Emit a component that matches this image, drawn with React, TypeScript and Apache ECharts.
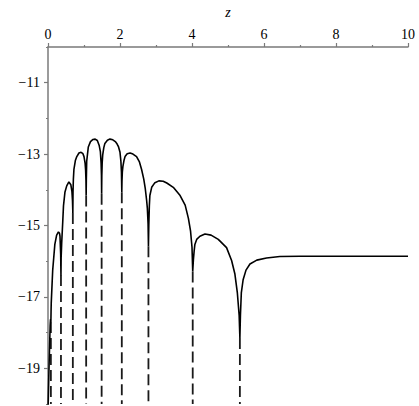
import React, { useEffect, useRef } from "react";
import * as echarts from "echarts";

// curve: log-magnitude versus z
const curvePoints: [number, number][] = [
  [0, -20.2], [0.03, -18.9], [0.06, -17.8], [0.07, -17.63], [0.08, -17.7],
  [0.085, -17.4], [0.09, -17.17], [0.13, -16.26], [0.19, -15.53], [0.24, -15.27], [0.29, -15.18],
  [0.32, -15.22], [0.333, -15.3], [0.352, -15.8], [0.36, -16.39],
  [0.365, -15.9], [0.38, -15.5], [0.41, -14.89], [0.43, -14.45], [0.47, -14.07], [0.52, -13.89],
  [0.58, -13.78], [0.635, -13.86], [0.665, -14.05], [0.68, -14.3], [0.69, -14.65],
  [0.695, -14.05], [0.705, -13.7], [0.72, -13.43], [0.76, -13.18], [0.8, -13.07], [0.86, -12.97],
  [0.92, -12.95], [0.97, -12.99], [1.0, -13.07], [1.03, -13.25], [1.045, -13.45], [1.055, -13.75], [1.06, -14.16],
  [1.065, -13.7], [1.075, -13.2], [1.12, -12.8], [1.18, -12.65], [1.25, -12.59], [1.31, -12.58],
  [1.37, -12.62], [1.42, -12.75], [1.455, -12.93], [1.475, -13.25], [1.485, -13.6], [1.49, -14.11],
  [1.495, -13.6], [1.505, -13.25], [1.52, -13.02], [1.55, -12.82], [1.58, -12.7], [1.65, -12.61],
  [1.72, -12.58], [1.8, -12.6], [1.87, -12.65], [1.91, -12.7], [1.96, -12.8], [2.0, -12.95],
  [2.025, -13.2], [2.04, -13.5], [2.05, -14.07],
  [2.055, -13.75], [2.065, -13.5], [2.08, -13.35], [2.11, -13.18], [2.14, -13.07], [2.2, -12.99],
  [2.28, -12.97], [2.36, -13.0], [2.46, -13.07], [2.54, -13.22], [2.6, -13.43], [2.66, -13.7],
  [2.7, -13.95], [2.74, -14.3], [2.76, -14.52], [2.78, -14.95], [2.79, -15.58],
  [2.8, -15.0], [2.815, -14.45], [2.83, -14.16], [2.88, -13.93], [2.97, -13.8], [3.08, -13.75],
  [3.2, -13.76], [3.3, -13.81], [3.48, -13.93], [3.67, -14.16], [3.81, -14.43], [3.9, -14.8],
  [3.96, -15.16], [4.0, -15.61], [4.02, -16.29],
  [4.04, -15.94], [4.06, -15.71], [4.08, -15.53], [4.13, -15.39], [4.22, -15.3], [4.36, -15.24],
  [4.53, -15.27], [4.73, -15.39], [4.96, -15.62], [5.1, -15.98], [5.19, -16.35], [5.26, -16.89],
  [5.31, -17.52], [5.33, -18.15],
  [5.345, -17.52], [5.37, -16.89], [5.42, -16.52], [5.5, -16.25], [5.61, -16.08], [5.8, -15.97],
  [6.07, -15.91], [6.44, -15.87], [7.0, -15.86], [10, -15.86],
];

// cusps (zeros) with dashed vertical lines below them
const cuspZ = [0.08, 0.36, 0.69, 1.06, 1.49, 2.05, 2.79, 4.02, 5.33];
const cuspV = [-17.7, -16.39, -14.65, -14.16, -14.11, -14.07, -15.58, -16.29, -18.15];

const xMin = 0;
const xMax = 10;
const xStep = 2;
const yMin = -20;
const yMax = -10;
const yLabelValues = [-19, -17, -15, -13, -11];
const yMinorValues = [-20, -18, -16, -14, -12, -10];

export default function App() {
  const ref = useRef<HTMLDivElement>(null);
  useEffect(() => {
    document.body.style.margin = "0";
    const chart = echarts.init(ref.current!, null, { renderer: "svg" });
    const font = "Liberation Serif";
    const axisColor = "#7a7a7a";
    const dashSeries = cuspZ.map((z, i) => ({
      type: "line",
      data: [[z, cuspV[i]], [z, yMin]],
      showSymbol: false,
      silent: true,
      lineStyle: { color: "#1a1a1a", width: 1.8, type: [11, 5] },
      z: 1,
    }));
    chart.setOption({
      animation: false,
      textStyle: { fontFamily: font },
      grid: { left: 48, right: 11, top: 38, bottom: 2 },
      xAxis: {
        type: "value",
        position: "top",
        min: xMin,
        max: xMax,
        interval: xStep,
        name: "z",
        nameLocation: "middle",
        nameGap: 28,
        nameTextStyle: { fontFamily: font, fontStyle: "italic", fontSize: 14, color: "#000000" },
        axisLine: { show: true, onZero: false, lineStyle: { color: axisColor, width: 1.5 } },
        axisTick: { show: true, length: 4, lineStyle: { color: axisColor, width: 1.2 } },
        minorTick: { show: true, splitNumber: 2, length: 2, lineStyle: { color: axisColor, width: 1.2 } },
        axisLabel: { color: "#000000", fontFamily: font, fontSize: 14, margin: 6 },
        splitLine: { show: false },
        minorSplitLine: { show: false },
      },
      yAxis: [
        {
          type: "value",
          position: "left",
          min: yMin,
          max: yMax,
          interval: 1,
          axisLine: { show: true, onZero: false, lineStyle: { color: axisColor, width: 1.5 } },
          axisTick: { show: true, customValues: yLabelValues, length: 4, lineStyle: { color: axisColor, width: 1.2 } },
          axisLabel: {
            customValues: yLabelValues,
            color: "#000000",
            fontFamily: font,
            fontSize: 14,
            margin: 8,
            formatter: (v: number) => "\u2212" + Math.abs(v),
          },
          splitLine: { show: false },
        },
        {
          type: "value",
          position: "left",
          min: yMin,
          max: yMax,
          interval: 1,
          axisLine: { show: false, onZero: false },
          axisTick: { show: true, customValues: yMinorValues, length: 2, lineStyle: { color: axisColor, width: 1.2 } },
          axisLabel: { show: false },
          splitLine: { show: false },
        },
      ],
      series: [
        {
          type: "line",
          data: curvePoints,
          showSymbol: false,
          silent: true,
          lineStyle: { color: "#000", width: 1.6 },
          z: 2,
        },
        ...dashSeries,
      ],
    });
    return () => chart.dispose();
  }, []);
  return <div ref={ref} style={{ width: 419, height: 406 }} />;
}
